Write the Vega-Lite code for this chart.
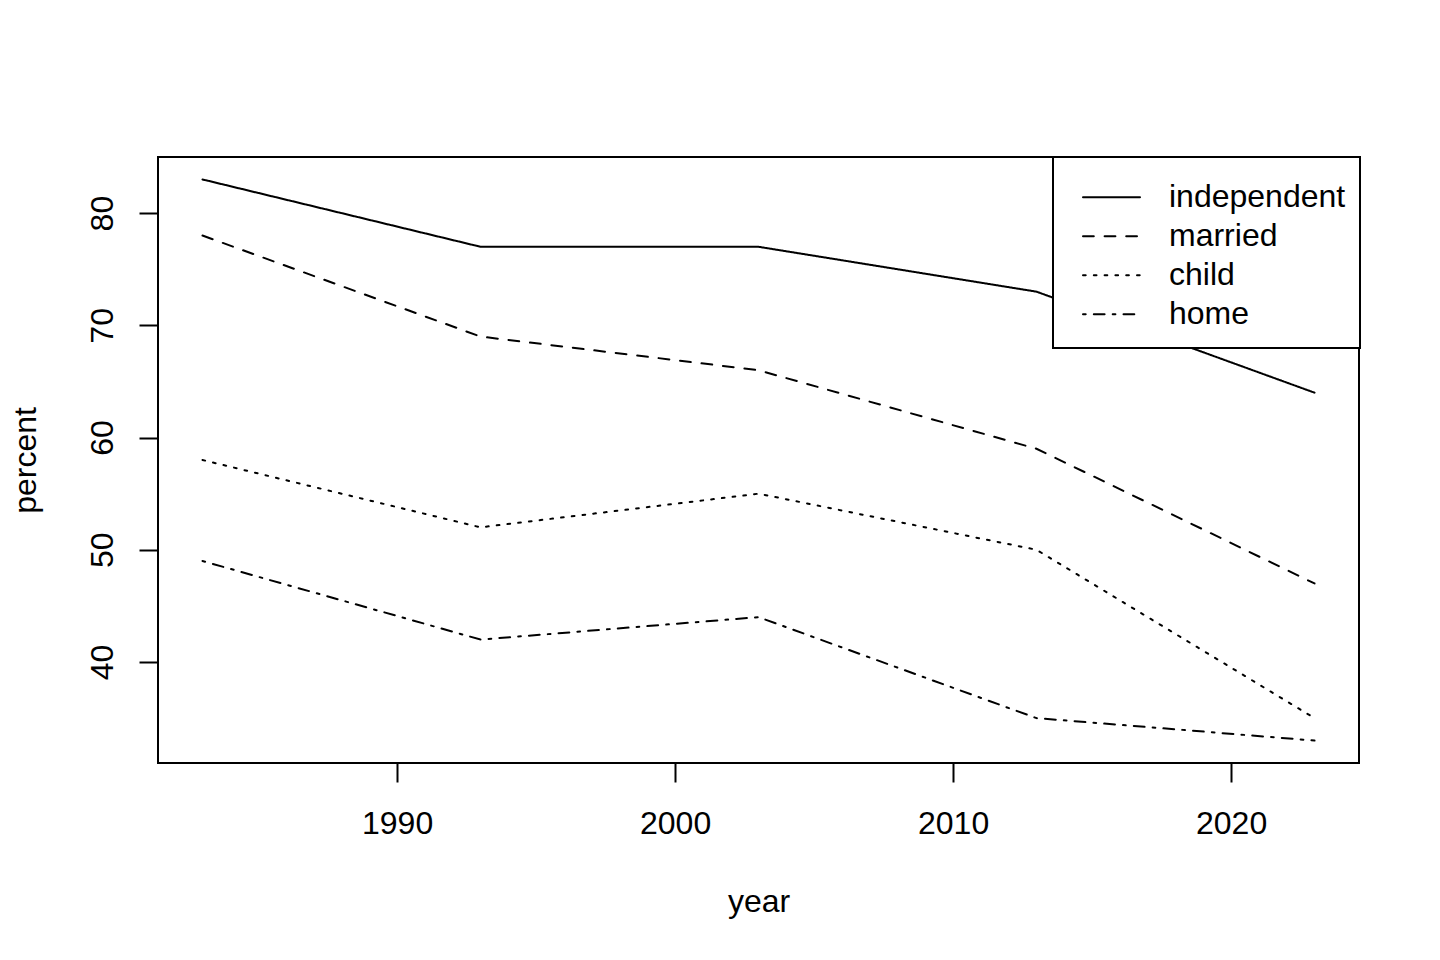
{
  "$schema": "https://vega.github.io/schema/vega-lite/v6.json",
  "width": 1201,
  "height": 606,
  "autosize": {"type": "none"},
  "padding": {"left": 158, "top": 157, "right": 81, "bottom": 197},
  "background": "white",
  "data": {
    "values": [
      {"year": 1983, "percent": 83, "series": "independent"},
      {"year": 1993, "percent": 77, "series": "independent"},
      {"year": 2003, "percent": 77, "series": "independent"},
      {"year": 2013, "percent": 73, "series": "independent"},
      {"year": 2023, "percent": 64, "series": "independent"},
      {"year": 1983, "percent": 78, "series": "married"},
      {"year": 1993, "percent": 69, "series": "married"},
      {"year": 2003, "percent": 66, "series": "married"},
      {"year": 2013, "percent": 59, "series": "married"},
      {"year": 2023, "percent": 47, "series": "married"},
      {"year": 1983, "percent": 58, "series": "child"},
      {"year": 1993, "percent": 52, "series": "child"},
      {"year": 2003, "percent": 55, "series": "child"},
      {"year": 2013, "percent": 50, "series": "child"},
      {"year": 2023, "percent": 35, "series": "child"},
      {"year": 1983, "percent": 49, "series": "home"},
      {"year": 1993, "percent": 42, "series": "home"},
      {"year": 2003, "percent": 44, "series": "home"},
      {"year": 2013, "percent": 35, "series": "home"},
      {"year": 2023, "percent": 33, "series": "home"}
    ]
  },
  "mark": {"type": "line", "color": "black", "strokeWidth": 2, "strokeCap": "round"},
  "encoding": {
    "x": {
      "field": "year",
      "type": "quantitative",
      "scale": {"domain": [1981.4, 2024.6], "nice": false, "zero": false},
      "axis": {
        "values": [1990, 2000, 2010, 2020],
        "format": "d",
        "title": "year",
        "grid": false,
        "domain": false,
        "tickSize": 19,
        "tickWidth": 2,
        "tickColor": "black",
        "labelBaseline": "alphabetic",
        "labelPadding": 51,
        "titleBaseline": "alphabetic",
        "titleY": 148
      }
    },
    "y": {
      "field": "percent",
      "type": "quantitative",
      "scale": {"domain": [31, 85], "nice": false, "zero": false},
      "axis": {
        "values": [40, 50, 60, 70, 80],
        "title": "percent",
        "grid": false,
        "domain": false,
        "tickSize": 19,
        "tickWidth": 2,
        "tickColor": "black",
        "labelAngle": -90,
        "labelAlign": "center",
        "labelBaseline": "alphabetic",
        "labelPadding": 27,
        "titleAngle": -90,
        "titleAlign": "center",
        "titleBaseline": "alphabetic",
        "titleX": -123,
        "titleY": 303
      }
    },
    "strokeDash": {
      "field": "series",
      "type": "nominal",
      "scale": {
        "domain": ["independent", "married", "child", "home"],
        "range": [[1, 0], [10.8, 10.8], [2.7, 8.1], [2.7, 8.1, 10.8, 8.1]]
      },
      "legend": {
        "title": " ",
        "titleFontSize": 2,
        "titlePadding": 5,
        "orient": "none",
        "legendX": 895,
        "legendY": 0,
        "symbolType": "stroke",
        "symbolSize": 3249,
        "symbolStrokeWidth": 2,
        "symbolStrokeColor": "black",
        "padding": 14,
        "symbolOffset": 15,
        "labelOffset": 28,
        "clipHeight": 38.5,
        "rowPadding": 0,
        "fillColor": "white",
        "strokeColor": "black",
        "labelFontSize": 32,
        "labelFont": "Liberation Sans",
        "labelColor": "black",
        "labelLimit": 400,
        "encode": {
          "symbols": {"update": {"strokeCap": {"value": "round"}}}
        }
      }
    }
  },
  "config": {
    "view": {"stroke": "black", "strokeWidth": 2},
    "font": "Liberation Sans",
    "axis": {
      "labelFont": "Liberation Sans",
      "labelFontSize": 32,
      "labelColor": "black",
      "titleFont": "Liberation Sans",
      "titleFontSize": 32,
      "titleFontWeight": "normal",
      "titleColor": "black"
    },
    "legend": {"strokeWidth": 2}
  }
}
